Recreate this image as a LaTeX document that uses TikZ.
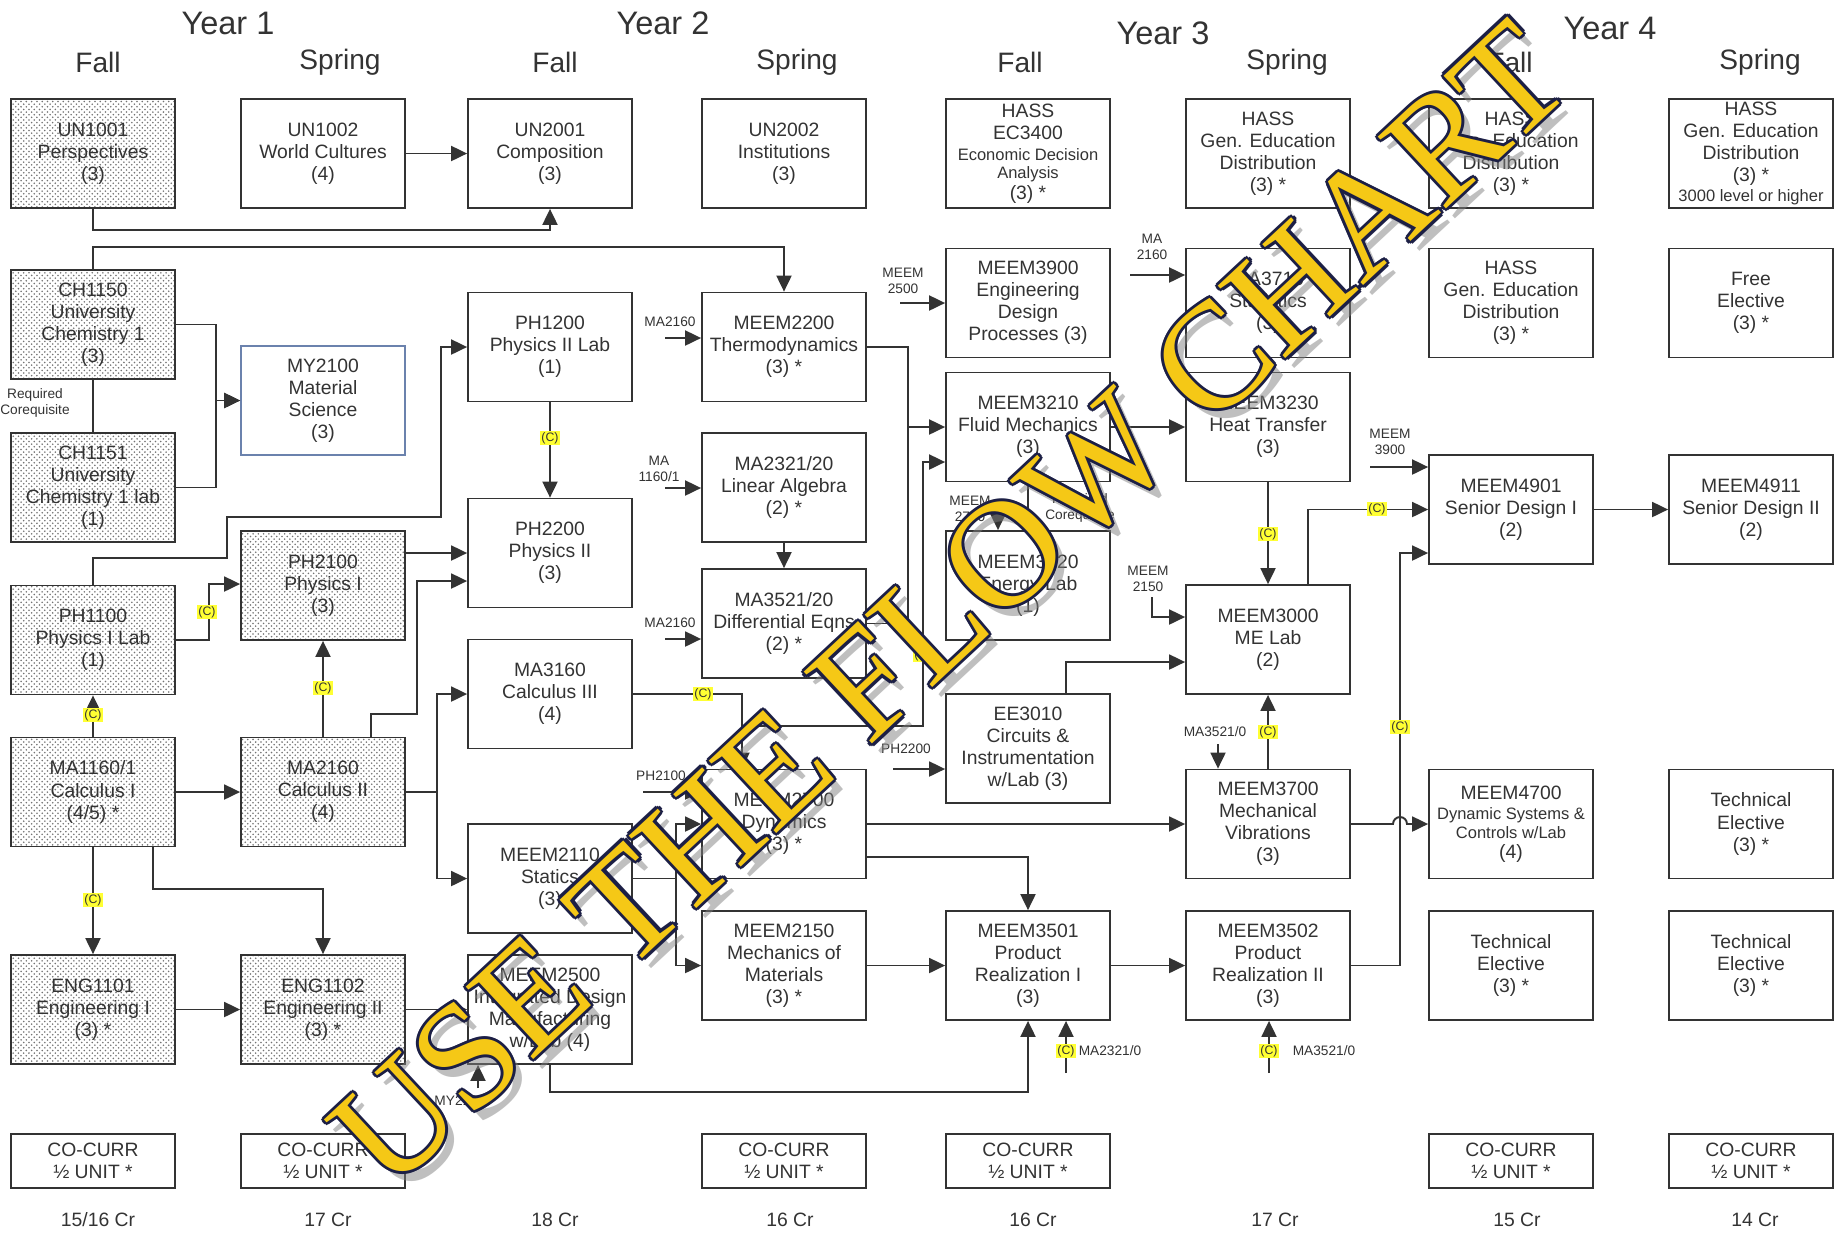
\documentclass[tikz,border=0pt]{standalone}
\usepackage{fontspec}
\setmainfont{Liberation Sans}
\newfontfamily\wmfont{Liberation Serif}
\usetikzlibrary{arrows.meta, patterns}

\definecolor{ink}{HTML}{333333}
\definecolor{hilite}{HTML}{FFFF33}
\definecolor{wmgold}{HTML}{F5C816}
\definecolor{wmnavy}{HTML}{1C1F45}
\definecolor{slateline}{HTML}{6B82AD}

\newcommand{\boxfont}{\fontsize{11}{12.6}\selectfont}
\newcommand{\minifont}{\fontsize{9.4}{10.4}\selectfont}
\newcommand{\tagfont}{\fontsize{7.8}{9.4}\selectfont}
\newcommand{\ctagfont}{\fontsize{7}{8}\selectfont}
\newcommand{\yearfont}{\fontsize{18.5}{20}\selectfont}
\newcommand{\semfont}{\fontsize{16}{18}\selectfont}
\newcommand{\crfont}{\fontsize{11}{12}\selectfont}

\begin{document}
\begin{tikzpicture}[x=0.2mm, y=-0.2mm,
	course/.style={draw=ink, line width=1pt, text=ink, minimum width=32.8mm, minimum height=21.8mm, align=center, font=\boxfont, inner sep=1pt},
	core/.style={course, pattern=crosshatch dots, pattern color=black!55},
	cocurr/.style={course, minimum height=10.8mm},
	link/.style={draw=ink, line width=1.1pt},
	arr/.style={link, -{Triangle[length=3.2mm, width=3mm]}},
	coreq/.style={fill=hilite, text=ink, font=\ctagfont, inner sep=0.6pt},
	tag/.style={text=ink, font=\tagfont, align=center, inner sep=0pt},
	head/.style={text=ink, inner sep=0pt},
	wmark/.style={font=\wmfont\fontsize{86}{86}\selectfont, rotate=43, inner sep=0pt}]

	\def \colA {93}
	\def \colB {323}
	\def \colC {550}
	\def \colD {784}
	\def \colE {1028}
	\def \colF {1268}
	\def \colG {1511}
	\def \colH {1751}

	\useasboundingbox (0,0) rectangle (1841,1235);

	% headings
	\node[head, font=\yearfont] (year1) at (228,23) {Year 1};
	\node[head, font=\yearfont] (year2) at (663,23) {Year 2};
	\node[head, font=\yearfont] (year3) at (1163,33) {Year 3};
	\node[head, font=\yearfont] (year4) at (1610,28) {Year 4};
	\node[head, font=\semfont] (fallA) at (98,62) {Fall};
	\node[head, font=\semfont] (springA) at (340,62) {Spring};
	\node[head, font=\semfont] (fallB) at (555,62) {Fall};
	\node[head, font=\semfont] (springB) at (797,62) {Spring};
	\node[head, font=\semfont] (fallC) at (1020,62) {Fall};
	\node[head, font=\semfont] (springC) at (1287,62) {Spring};
	\node[head, font=\semfont] (fallD) at (1510,62) {Fall};
	\node[head, font=\semfont] (springD) at (1760,62) {Spring};

	% Year 1 Fall
	\node[core] (un1001) at (\colA,153.5) {UN1001\\Perspectives\\(3)};
	\node[core] (ch1150) at (\colA,324.5) {CH1150\\University\\Chemistry 1\\(3)};
	\node[core] (ch1151) at (\colA,487.5) {CH1151\\University\\Chemistry 1 lab\\(1)};
	\node[core] (ph1100) at (\colA,640) {PH1100\\Physics I Lab\\(1)};
	\node[core] (ma1160) at (\colA,792) {MA1160/1\\Calculus I\\(4/5) *};
	\node[core] (eng1101) at (\colA,1009.5) {ENG1101\\Engineering I\\(3) *};
	\node[cocurr] (cocurA) at (\colA,1161) {CO-CURR\\½ UNIT *};

	% Year 1 Spring
	\node[course] (un1002) at (\colB,153.5) {UN1002\\World Cultures\\(4)};
	\node[course, draw=slateline] (my2100) at (\colB,400.5) {MY2100\\Material\\Science\\(3)};
	\node[core] (ph2100) at (\colB,585.5) {PH2100\\Physics I\\(3)};
	\node[core] (ma2160) at (\colB,792) {MA2160\\Calculus II\\(4)};
	\node[core] (eng1102) at (\colB,1009.5) {ENG1102\\Engineering II\\(3) *};
	\node[cocurr] (cocurB) at (\colB,1161) {CO-CURR\\½ UNIT *};

	% Year 2 Fall
	\node[course] (un2001) at (\colC,153.5) {UN2001\\Composition\\(3)};
	\node[course] (ph1200) at (\colC,347) {PH1200\\Physics II Lab\\(1)};
	\node[course] (ph2200) at (\colC,553) {PH2200\\Physics II\\(3)};
	\node[course] (ma3160) at (\colC,694) {MA3160\\Calculus III\\(4)};
	\node[course] (meem2110) at (\colC,878.5) {MEEM2110\\Statics\\(3)};
	\node[course] (meem2500) at (\colC,1009.5) {MEEM2500\\Integrated Design\\Manufacturing\\w/Lab (4)};

	% Year 2 Spring
	\node[course] (un2002) at (\colD,153.5) {UN2002\\Institutions\\(3)};
	\node[course] (meem2200) at (\colD,347) {MEEM2200\\Thermodynamics\\(3) *};
	\node[course] (ma2321) at (\colD,487.5) {MA2321/20\\Linear Algebra\\(2) *};
	\node[course] (ma3521) at (\colD,623.5) {MA3521/20\\Differential Eqns\\(2) *};
	\node[course] (meem2700) at (\colD,824) {MEEM2700\\Dynamics\\(3) *};
	\node[course] (meem2150) at (\colD,965.5) {MEEM2150\\Mechanics of\\Materials\\(3) *};
	\node[cocurr] (cocurD) at (\colD,1161) {CO-CURR\\½ UNIT *};

	% Year 3 Fall
	\node[course] (ec3400) at (\colE,153.5) {HASS\\EC3400\\[-1pt]{\minifont Economic Decision}\\[-2pt]{\minifont Analysis}\\[-1pt](3) *};
	\node[course] (meem3900) at (\colE,303) {MEEM3900\\Engineering\\Design\\Processes (3)};
	\node[course] (meem3210) at (\colE,427) {MEEM3210\\Fluid Mechanics\\(3)};
	\node[course] (meem3220) at (\colE,585.5) {MEEM3220\\Energy Lab\\(1)};
	\node[course] (ee3010) at (\colE,748.5) {EE3010\\Circuits \&\\Instrumentation\\w/Lab (3)};
	\node[course] (meem3501) at (\colE,965.5) {MEEM3501\\Product\\Realization I\\(3)};
	\node[cocurr] (cocurE) at (\colE,1161) {CO-CURR\\½ UNIT *};

	% Year 3 Spring
	\node[course] (hassF) at (\colF,153.5) {HASS\\Gen. Education\\Distribution\\(3) *};
	\node[course] (ma3710) at (\colF,303) {MA3710\\Statistics\\(3)};
	\node[course] (meem3230) at (\colF,427) {MEEM3230\\Heat Transfer\\(3)};
	\node[course] (meem3000) at (\colF,639.5) {MEEM3000\\ME Lab\\(2)};
	\node[course] (meem3700) at (\colF,824) {MEEM3700\\Mechanical\\Vibrations\\(3)};
	\node[course] (meem3502) at (\colF,965.5) {MEEM3502\\Product\\Realization II\\(3)};

	% Year 4 Fall
	\node[course] (hassG) at (\colG,153.5) {HASS\\Gen. Education\\Distribution\\(3) *};
	\node[course] (hassGG) at (\colG,303) {HASS\\Gen. Education\\Distribution\\(3) *};
	\node[course] (meem4901) at (\colG,509.5) {MEEM4901\\Senior Design I\\(2)};
	\node[course] (meem4700) at (\colG,824) {MEEM4700\\[-1pt]{\minifont Dynamic Systems \&}\\[-2pt]{\minifont Controls w/Lab}\\[-1pt](4)};
	\node[course] (techG) at (\colG,965.5) {Technical\\Elective\\(3) *};
	\node[cocurr] (cocurG) at (\colG,1161) {CO-CURR\\½ UNIT *};

	% Year 4 Spring
	\node[course] (hassH) at (\colH,153.5) {HASS\\Gen. Education\\Distribution\\(3) *\\[-1pt]{\minifont 3000 level or higher}};
	\node[course] (freeH) at (\colH,303) {Free\\Elective\\(3) *};
	\node[course] (meem4911) at (\colH,509.5) {MEEM4911\\Senior Design II\\(2)};
	\node[course] (techH) at (\colH,824) {Technical\\Elective\\(3) *};
	\node[course] (techHH) at (\colH,965.5) {Technical\\Elective\\(3) *};
	\node[cocurr] (cocurH) at (\colH,1161) {CO-CURR\\½ UNIT *};

	% credits
	\node[head, font=\crfont] (crA) at (98,1220) {15/16 Cr};
	\node[head, font=\crfont] (crB) at (328,1220) {17 Cr};
	\node[head, font=\crfont] (crC) at (555,1220) {18 Cr};
	\node[head, font=\crfont] (crD) at (790,1220) {16 Cr};
	\node[head, font=\crfont] (crE) at (1033,1220) {16 Cr};
	\node[head, font=\crfont] (crF) at (1275,1220) {17 Cr};
	\node[head, font=\crfont] (crG) at (1517,1220) {15 Cr};
	\node[head, font=\crfont] (crH) at (1755,1220) {14 Cr};

	% outside prerequisites
	\node[tag] (tagA) at (670,322) {MA2160};
	\node[tag] (tagB) at (659,469) {MA\\1160/1};
	\node[tag] (tagC) at (670,623) {MA2160};
	\node[tag] (tagD) at (661,776) {PH2100};
	\node[tag] (tagE) at (903,281) {MEEM\\2500};
	\node[tag] (tagF) at (1152,247) {MA\\2160};
	\node[tag] (tagG) at (970,509) {MEEM\\2700};
	\node[tag] (tagH) at (906,749) {PH2200};
	\node[tag] (tagI) at (1148,579) {MEEM\\2150};
	\node[tag] (tagJ) at (1390,442) {MEEM\\3900};
	\node[tag] (tagK) at (1215,732) {MA3521/0};
	\node[tag] (tagL) at (1110,1051) {MA2321/0};
	\node[tag] (tagM) at (1324,1051) {MA3521/0};
	\node[tag] (tagN) at (460,1101) {MY2100};
	\node[tag] (reqA) at (35,403) {Required\\Corequisite};
	\node[tag] (reqB) at (1080,508) {Required\\Corequisite};

	\coordinate (inA) at (665,338);
	\coordinate (inB) at (665,488);
	\coordinate (inC) at (665,639);
	\coordinate (inD) at (643,792);
	\coordinate (inE) at (900,303);
	\coordinate (inF) at (1130,275);
	\coordinate (inG) at (998,500);
	\coordinate (inH) at (893,769);
	\coordinate (inI) at (1152,597);
	\coordinate (inJ) at (1370,467);
	\coordinate (inK) at (1218,744);
	\coordinate (inL) at (1066,1073);
	\coordinate (inM) at (1269,1073);
	\coordinate (inN) at (478,1088);
	\coordinate (calcsplit) at (742,726);

	\draw[arr] (inA) -- (meem2200.west |- inA);
	\draw[arr] (inB) -- (ma2321.west |- inB);
	\draw[arr] (inC) -- (ma3521.west |- inC);
	\draw[arr] (inD) -- (meem2700.west |- inD);
	\draw[arr] (inE) -- (meem3900.west |- inE);
	\draw[arr] (inF) -- (ma3710.west |- inF);
	\draw[arr] (inG) -- (meem3220.north -| inG);
	\draw[arr] (inH) -- (ee3010.west |- inH);
	\draw[arr] (inI) |- (meem3000.west |- 0,617);
	\draw[arr] (inJ) -- (meem4901.west |- inJ);
	\draw[arr] (inK) -- (meem3700.north -| inK);
	\draw[arr] (inL) -- (meem3501.south -| inL);
	\draw[arr] (inM) -- (meem3502.south -| inM);
	\draw[arr] (inN) -- (meem2500.south -| inN);

	% Year 1 links
	\draw[arr] (un1002) -- (un2001);
	\draw[arr] (un1001.south) -- ++(0,21) -| (un2001.south);
	\draw[arr] (ch1150.north) -- ++(0,-22) -| (meem2200.north);
	\draw[link] (ch1150.south) -- (ch1151.north);
	\draw[arr] (ch1150.east) -- ++(40,0) |- (my2100.west);
	\draw[arr] (ch1151.east) -- ++(40,0) |- (my2100.west);
	\draw[arr] (ph1100.north) |- (227,558) |- (441,517) |- (ph1200.west);
	\draw[arr] (ph1100.east) -- ++(33,0) |- (ph2100.west |- 0,584);
	\draw[arr] (ma1160) -- (ph1100);
	\draw[arr] (ma2160) -- (ph2100);
	\draw[arr] (ma1160) -- (ma2160);
	\draw[arr] (ma1160) -- (eng1101);
	\draw[arr] ([xshift=12mm]ma1160.south) |- (\colB,889) -- (eng1102.north);
	\draw[arr] (eng1101) -- (eng1102);
	\draw[arr] (eng1102) -- (meem2500);
	\draw[arr] (ph2100.east |- 0,553) -- (ph2200.west |- 0,553);
	\draw[arr] ([xshift=9.6mm]ma2160.north) |- (417,714) |- (ph2200.west |- 0,581);
	\draw[arr] (ma2160.east) -- (437,792) |- (ma3160.west);
	\draw[arr] (ma2160.east) -- (437,792) |- (meem2110.west);

	% Year 2 links
	\draw[arr] (ph1200) -- (ph2200);
	\draw[arr] (ma2321) -- (ma3521);
	\draw[arr] (ma3160.east) -| ([xshift=-8.4mm]meem2700.north);
	\draw[arr] (calcsplit) -- (923,726) |- (meem3210.west |- 0,462);
	\draw[arr] (meem2110.east) -- (676,878.5) |- (meem2700.west);
	\draw[arr] (meem2110.east) -- (676,878.5) |- (meem2150.west);
	\draw[arr] (meem2200.east) -| (908,427) -- (meem3210.west);
	\draw[link] (ma3521.east) -| (908,427);
	\draw[arr] (meem2700) -- (meem3700);
	\draw[arr] (meem2700.east |- 0,857) -| (meem3501.north);
	\draw[arr] (meem2150) -- (meem3501);
	\draw[arr] (meem2500.south) -- (\colC,1092) -| (meem3501.south);

	% Year 3 and 4 links
	\draw[arr] (meem3210) -- (meem3230);
	\draw[link] (meem3210) -- (meem3220);
	\draw[arr] (meem3230) -- (meem3000);
	\draw[arr] (meem3700) -- (meem3000);
	\draw[arr] ([xshift=7.6mm]ee3010.north) |- (meem3000.west |- 0,662);
	\draw[arr] (meem3501) -- (meem3502);
	\draw[arr] ([xshift=8mm]meem3000.north) |- (meem4901.west);
	\draw[arr] (meem3502.east) -| (1400,553) -- (meem4901.west |- 0,553);
	\draw[arr] (meem3700.east) -- (1393,824) arc (180:360:7) -- (meem4700.west);
	\draw[arr] (meem4901) -- (meem4911);

	% corequisite marks
	\node[coreq] (cqA) at (207,612) {(C)};
	\node[coreq] (cqB) at (\colA,715) {(C)};
	\node[coreq] (cqC) at (\colB,688) {(C)};
	\node[coreq] (cqD) at (\colA,900) {(C)};
	\node[coreq] (cqE) at (\colC,438) {(C)};
	\node[coreq] (cqF) at (703,694) {(C)};
	\node[coreq] (cqG) at (923,655) {(C)};
	\node[coreq] (cqH) at (\colF,534) {(C)};
	\node[coreq] (cqI) at (\colF,732) {(C)};
	\node[coreq] (cqJ) at (1377,509) {(C)};
	\node[coreq] (cqK) at (1400,727) {(C)};
	\node[coreq] (cqL) at (1066,1051) {(C)};
	\node[coreq] (cqM) at (1269,1051) {(C)};

	% watermark
	\node[wmark, text=black!50, opacity=0.5] (wmshade) at (959,615) {USE THE FLOW CHART};
	\foreach \dx/\dy [count=\k] in {-1/0, 1/0, 0/-1, 0/1, -0.7/-0.7, 0.7/0.7, -0.7/0.7, 0.7/-0.7}
		\node[wmark, text=wmnavy] (wmedge\k) at (950+3*\dx, 605+3*\dy) {USE THE FLOW CHART};
	\node[wmark, text=wmgold] (wmtext) at (950,605) {USE THE FLOW CHART};
\end{tikzpicture}
\end{document}
